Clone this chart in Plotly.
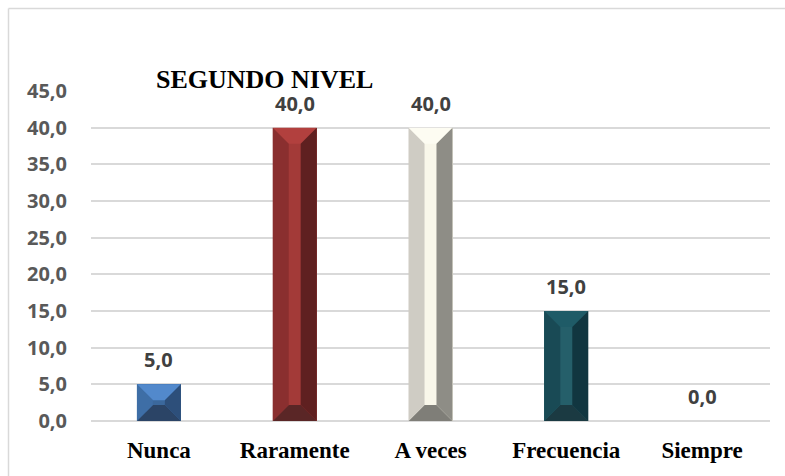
import plotly.graph_objects as go

# Survey response frequencies (percent) for the second level
categories = ["Nunca", "Raramente", "A veces", "Frecuencia", "Siempre"]
values = [5.0, 40.0, 40.0, 15.0, 0.0]
y_ticks = [0, 5, 10, 15, 20, 25, 30, 35, 40, 45]
title_text = "SEGUNDO NIVEL"

# Bevel shading for each bar: top, left, right, bottom, face
bevel_colors = [
    ("#5289cc", "#3e6ea6", "#2d4f7a", "#2b4466", "#3b689c"),
    ("#b2403e", "#8a2f2f", "#5f2020", "#5a2626", "#a33a38"),
    ("#fdfcf2", "#cfccc4", "#8e8d86", "#7f7e78", "#f9f7ea"),
    ("#1f5b67", "#194a55", "#113640", "#1b3a42", "#255f6a"),
]

BAR_W = 0.324      # bar width in category units
BEVEL_X = 0.118    # horizontal bevel depth (category units)
BEVEL_Y = 2.18     # vertical bevel depth (value units)

fig = go.Figure()

xs = list(range(len(categories)))
fig.add_trace(go.Bar(
    x=xs, y=values, width=BAR_W,
    marker=dict(color=[c[4] for c in bevel_colors] + ["#ffffff"], line=dict(width=0)),
    hoverinfo="skip", showlegend=False,
))


def poly(px, py, color):
    fig.add_trace(go.Scatter(
        x=px + [px[0]], y=py + [py[0]], mode="lines", fill="toself",
        fillcolor=color, line=dict(width=0, color=color),
        hoverinfo="skip", showlegend=False,
    ))


for i, v in enumerate(values):
    if v <= 0:
        continue
    top_c, left_c, right_c, bot_c, face_c = bevel_colors[i]
    w = BAR_W / 2
    b = BEVEL_X
    d = min(BEVEL_Y, v / 2)
    xl, xr = i - w, i + w
    # top facet
    poly([xl, xr, xr - b, xl + b], [v, v, v - d, v - d], top_c)
    # bottom facet
    poly([xl, xr, xr - b, xl + b], [0, 0, d, d], bot_c)
    # left facet
    poly([xl, xl, xl + b, xl + b], [0, v, v - d, d], left_c)
    # right facet
    poly([xr, xr, xr - b, xr - b], [0, v, v - d, d], right_c)

# Value labels above bars
for i, v in enumerate(values):
    fig.add_annotation(
        x=i, y=v, text=f"<b>{v:.1f}</b>".replace(".", ","), showarrow=False,
        yanchor="bottom", yshift=10, borderpad=0,
        font=dict(family="Open Sans", size=20, color="#404040"),
    )

# Chart title
fig.add_annotation(
    xref="paper", yref="paper", x=(155 - 91) / 679, y=1.0,
    xanchor="left", yanchor="bottom", yshift=-4, borderpad=0,
    text=f"<b>{title_text}</b>", showarrow=False,
    font=dict(family="Liberation Serif", size=26, color="#000000"),
)

# Outer chart frame (left and top edges)
fig.add_shape(type="line", xref="paper", yref="paper",
              x0=(8.5 - 91) / 679, x1=1.03, y0=(421 - 8.5) / 330, y1=(421 - 8.5) / 330,
              line=dict(color="#d9d9d9", width=1.5))
fig.add_shape(type="line", xref="paper", yref="paper",
              x0=(8.5 - 91) / 679, x1=(8.5 - 91) / 679, y0=-0.2, y1=(421 - 8.5) / 330,
              line=dict(color="#d9d9d9", width=1.5))

fig.update_layout(
    width=785, height=476,
    margin=dict(l=91, r=15, t=91, b=55),
    paper_bgcolor="#ffffff", plot_bgcolor="#ffffff",
    separators=",.",
    showlegend=False,
    bargap=0,
)
fig.update_xaxes(
    range=[-0.5, 4.5], tickvals=xs, ticktext=[f"<b>{c}</b>" for c in categories],
    tickfont=dict(family="Liberation Serif", size=23, color="#000000"),
    showgrid=False, zeroline=False, showline=False,
    ticks="outside", ticklen=8, tickcolor="rgba(0,0,0,0)",
    automargin=False, fixedrange=True,
)
fig.update_yaxes(
    range=[0, 45], tickvals=y_ticks, tickformat=".1f",
    tickfont=dict(family="Open Sans", size=20, color="#595959", weight="bold"),
    showgrid=True, gridcolor="#d9d9d9", gridwidth=1.5,
    zeroline=True, zerolinecolor="#d9d9d9", zerolinewidth=1.5,
    showline=False,
    ticks="outside", ticklen=19, tickcolor="rgba(0,0,0,0)",
    automargin=False, fixedrange=True,
)

fig.write_html("out.html")
